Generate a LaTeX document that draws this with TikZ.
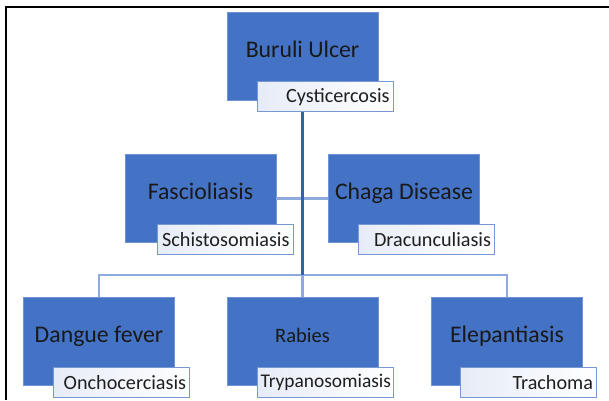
\documentclass[tikz,border=0pt]{standalone}
\usepackage{fontspec}
\setmainfont{Carlito}
\usetikzlibrary{calc,positioning}
\definecolor{boxblue}{HTML}{4472C4}
\definecolor{boxedge}{HTML}{6F93D6}
\definecolor{tagedge}{HTML}{7898D4}
\definecolor{tagtint}{HTML}{E6ECF7}
\definecolor{buslight}{HTML}{8FAADC}
\definecolor{busdark}{HTML}{3560AE}
\tikzset{
  disease/.style={draw=boxedge, line width=0.8pt, fill=boxblue, minimum width=151pt, minimum height=88pt,
    inner sep=0pt, text height=17pt, text depth=15pt, font=\fontsize{23.8}{26}\selectfont, text=black!90},
  tag/.style={draw=tagedge, line width=0.9pt, left color=tagtint, right color=white, anchor=north west,
    minimum height=30pt, text width=129pt, inner sep=3.5pt, align=right, font=\fontsize{20.2}{22}\selectfont, text=black!88},
  busline/.style={draw=buslight, line width=2.4pt},
}

\begin{document}
\begin{tikzpicture}[x=1pt, y=1pt]
		\useasboundingbox (0, 0) rectangle (609, 400);
		%%%%% START %%%%%
		\draw[line width=2.5pt] (6, 0) -- (6, 393) -- (609, 393);
		
		\node[disease] (buruli) at (302.5, 344) {Buruli Ulcer};
		\node[disease] (fasc) at (200.5, 201.5) {Fascioliasis};
		\node[disease] (chaga) at (404, 201.5) {Chaga Disease};
		\node[disease] (dangue) at (99, 58.5) {Dangue fever};
		\node[disease, font=\fontsize{20.5}{22}\selectfont] (rabies) at (302.5, 58.5) {Rabies};
		\node[disease] (elep) at (507, 58.5) {Elepantiasis};
		
		\coordinate (bus) at (302.5, 125);
		
		\draw[busline] (fasc.east) -- (chaga.west);
		\draw[busline] (dangue.north) -- (dangue.north |- bus) -- (elep.north |- bus) -- (elep.north);
		\draw[busline] (bus) -- (rabies.north);
		
		\node[tag] (cyst) at ($(buruli.south west)+(30, 19)$) {Cysticercosis};
		\node[tag] (schisto) at ($(fasc.south west)+(32, 19)$) {Schistosomiasis};
		\node[tag] (dracun) at ($(chaga.south west)+(30, 19)$) {Dracunculiasis};
		\node[tag] (oncho) at ($(dangue.south west)+(30, 19)$) {Onchocerciasis};
		\node[tag, font=\fontsize{19.4}{21}\selectfont] (trypano) at ($(rabies.south west)+(30, 19)$) {Trypanosomiasis};
		\node[tag] (trach) at ($(elep.south west)+(29, 19)$) {Trachoma};
		
		\draw[busdark, line width=2.4pt] (buruli.south |- cyst.south) -- (bus);
		%%%%% END %%%%%
	\end{tikzpicture}
\end{document}
